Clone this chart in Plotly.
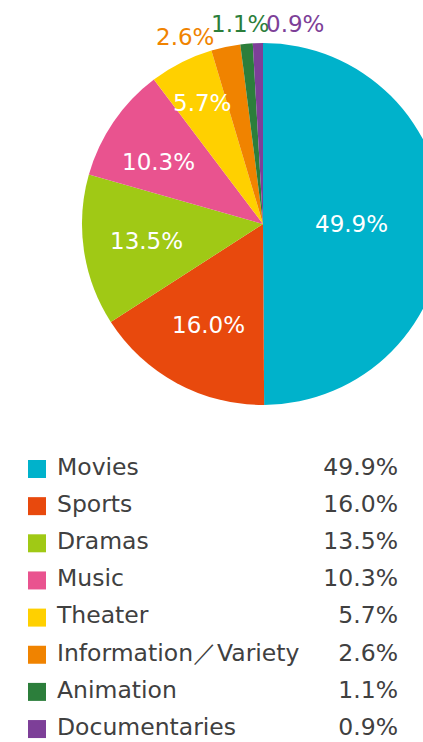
import math
import plotly.graph_objects as go

categories = ["Movies", "Sports", "Dramas", "Music", "Theater",
              "Information／Variety", "Animation", "Documentaries"]
values = [49.9, 16.0, 13.5, 10.3, 5.7, 2.6, 1.1, 0.9]
colors = ["#00B2CB", "#E8490D", "#A0C915", "#E9538F", "#FFD000",
          "#F08300", "#2C7E3B", "#7D3F98"]
pct_labels = [f"{v:.1f}%" for v in values]

W, H = 470, 742
cx, cy, R = 263, 224, 181

fig = go.Figure()
fig.add_trace(go.Pie(
    values=values, labels=categories, sort=False, direction="clockwise",
    rotation=0, marker=dict(colors=colors, line=dict(width=0)),
    textinfo="none",
    domain=dict(x=[(cx - R) / W, (cx + R) / W], y=[(H - cy - R) / H, (H - cy + R) / H]),
    showlegend=False, hoverinfo="label+percent",
))

# inside labels: placed along each slice's mid-angle
label_radius = [0.49, 0.635, 0.65, 0.67, 0.75]
label_turn = [0.0, 0.0, 0.0, -0.06, 0.0]  # small angular nudges (radians)
total = sum(values)
cum = 0.0
for i, v in enumerate(values):
    mid = (cum + v / 2) / total * 2 * math.pi
    cum += v
    if i < len(label_radius):
        r = label_radius[i] * R
        a = mid + label_turn[i]
        px = cx + r * math.sin(a)
        py = cy - r * math.cos(a)
        fig.add_annotation(x=px / W, y=1 - py / H, xref="paper", yref="paper",
                           xanchor="center", yanchor="middle",
                           text=pct_labels[i], showarrow=False,
                           font=dict(family="DejaVu Sans", size=23, color="white"))

# outside labels for the smallest slices
out_pos = {5: (185, 37), 6: (240, 24), 7: (295, 24)}
for i, (px, py) in out_pos.items():
    fig.add_annotation(x=px / W, y=1 - py / H, xref="paper", yref="paper",
                       xanchor="center", yanchor="middle",
                       text=pct_labels[i], showarrow=False,
                       font=dict(family="DejaVu Sans", size=23, color=colors[i]))

# legend table
rows = list(range(len(categories)))
row0, step = 469, 37.15
ytop_px = 440
yaxis_range = [(H - row0) / step, (ytop_px - row0) / step]
fig.add_trace(go.Scatter(x=[37] * len(rows), y=rows, mode="markers",
                         marker=dict(symbol="square", size=18, color=colors, line=dict(width=0)),
                         showlegend=False, hoverinfo="skip"))
fig.add_trace(go.Scatter(x=[57] * len(rows), y=rows, mode="text", text=categories,
                         textposition="middle right",
                         textfont=dict(family="DejaVu Sans", size=23.5, color="#404040"),
                         showlegend=False, hoverinfo="skip"))
fig.add_trace(go.Scatter(x=[398] * len(rows), y=rows, mode="text", text=pct_labels,
                         textposition="middle left",
                         textfont=dict(family="DejaVu Sans", size=23.5, color="#404040"),
                         showlegend=False, hoverinfo="skip"))

fig.update_layout(
    width=W, height=H, margin=dict(l=0, r=0, t=0, b=0),
    paper_bgcolor="white", plot_bgcolor="white",
    xaxis=dict(range=[0, W], domain=[0, 1], visible=False, fixedrange=True),
    yaxis=dict(range=yaxis_range, domain=[0, (H - ytop_px) / H], visible=False, fixedrange=True),
)

fig.write_html("out.html", config={"displayModeBar": False},
               post_script="document.body.style.margin='0';document.body.style.overflow='hidden';document.documentElement.style.overflow='hidden';")
